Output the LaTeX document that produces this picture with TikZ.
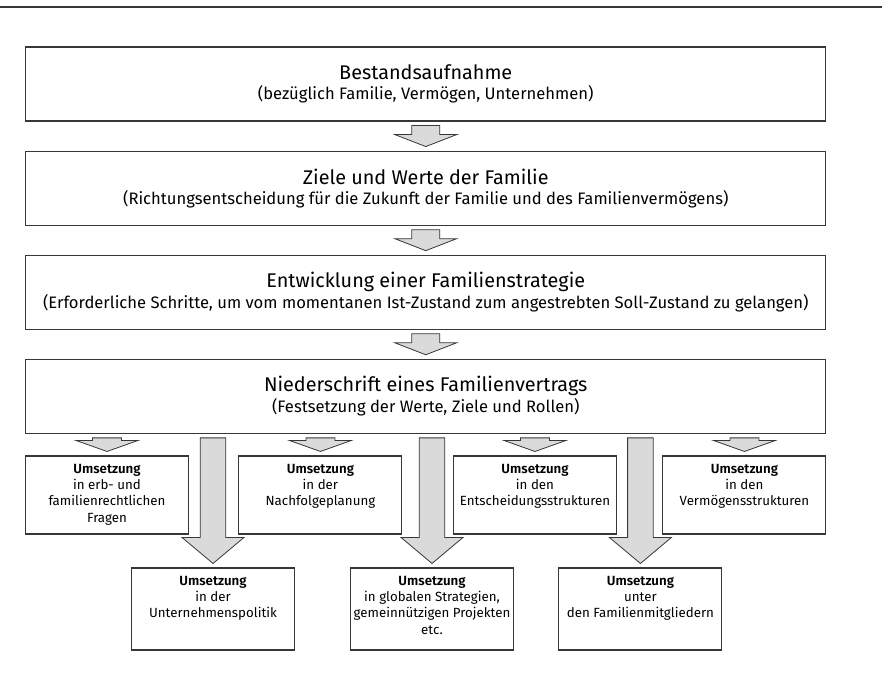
\documentclass[tikz,border=0pt]{standalone}
\usepackage{fontspec}
\setmainfont{Fira Sans}[BoldFont={Fira Sans SemiBold}]
\usepackage{tikz}
\usetikzlibrary{positioning}
\usetikzlibrary{calc}
\definecolor{arrow-gray}{RGB}{218,218,218}
\definecolor{line-gray}{RGB}{55,55,55}

\newcommand{\titlefont}{\fontsize{19.8}{22}\selectfont}
\newcommand{\subfont}{\fontsize{16.6}{18}\selectfont}
\newcommand{\smallfont}{\fontsize{13.3}{16.3}\selectfont}
\newcommand{\umsetzung}[2]{\parbox[t][#1][t]{163pt}{\centering\vspace*{8pt}\textbf{Umsetzung}\\#2}}
\newcommand{\blockarrow}[5]{%
  \coordinate (ba-top) at ($(#1.south -| #2.north)+(0,-4)$);
  \coordinate (ba-tip) at ($(#2.north)+(0,4)$);
  \filldraw[arrowfill] ($(ba-top)+(-#3,0)$) -- ($(ba-top)+(#3,0)$) -- ($(ba-tip)+(#3,#5)$)
    -- ($(ba-tip)+(#4,#5)$) -- (ba-tip) -- ($(ba-tip)+(-#4,#5)$) -- ($(ba-tip)+(-#3,#5)$) -- cycle;}

\begin{document}
\begin{tikzpicture}[x=1pt, y=1pt, node distance=29pt,
  mainbox/.style={draw=line-gray, line width=1.1pt, minimum width=800pt, minimum height=74pt, inner sep=0pt, align=center, font=\subfont},
  stepbox/.style={draw=line-gray, line width=1.1pt, inner sep=0pt, font=\smallfont},
  arrowfill/.style={draw=line-gray, fill=arrow-gray, line width=0.8pt}]

\useasboundingbox (0,0) rectangle (882,-681);
\draw [line-gray, line width=2pt] (0,-7) -- (882,-7);

\node [mainbox] (bestand) at (425.75,-84) {{\titlefont Bestandsaufnahme}\\[2pt](bezüglich Familie, Vermögen, Unternehmen)};
\node [mainbox, below = of bestand] (ziele) {{\titlefont Ziele und Werte der Familie}\\[2pt](Richtungsentscheidung für die Zukunft der Familie und des Familienvermögens)};
\node [mainbox, below = of ziele] (strategie) {{\titlefont Entwicklung einer Familienstrategie}\\[2pt](Erforderliche Schritte, um vom momentanen Ist-Zustand zum angestrebten Soll-Zustand zu gelangen)};
\node [mainbox, below = of strategie] (vertrag) {{\titlefont Niederschrift eines Familienvertrags}\\[2pt](Festsetzung der Werte, Ziele und Rollen)};

% erste Reihe
\node [stepbox] (erb) at (107,-495) {\umsetzung{78pt}{in erb- und\\familienrechtlichen\\Fragen}};
\node [stepbox] (nachfolge) at (320.4,-495) {\umsetzung{78pt}{in der\\Nachfolgeplanung}};
\node [stepbox] (entscheidung) at (535,-495) {\umsetzung{78pt}{in den\\Entscheidungsstrukturen}};
\node [stepbox] (vermoegen) at (744.4,-495) {\umsetzung{78pt}{in den\\Vermögensstrukturen}};

% zweite Reihe
\node [stepbox] (politik) at (213,-609) {\umsetzung{82pt}{in der\\Unternehmenspolitik}};
\node [stepbox] (global) at (432,-609) {\umsetzung{82pt}{in globalen Strategien,\\gemeinnützigen Projekten\\etc.}};
\node [stepbox] (mitglieder) at (640.4,-609) {\umsetzung{82pt}{unter\\den Familienmitgliedern}};

\blockarrow{bestand}{ziele}{14}{31}{12}
\blockarrow{ziele}{strategie}{14}{31}{12}
\blockarrow{strategie}{vertrag}{14}{31}{12}

\blockarrow{vertrag}{erb}{14.5}{31}{11}
\blockarrow{vertrag}{nachfolge}{14.5}{31}{11}
\blockarrow{vertrag}{entscheidung}{14.5}{31}{11}
\blockarrow{vertrag}{vermoegen}{14.5}{31}{11}

\blockarrow{vertrag}{politik}{12.8}{31}{26}
\blockarrow{vertrag}{global}{12.8}{31}{26}
\blockarrow{vertrag}{mitglieder}{12.8}{31}{26}

\end{tikzpicture}
\end{document}
